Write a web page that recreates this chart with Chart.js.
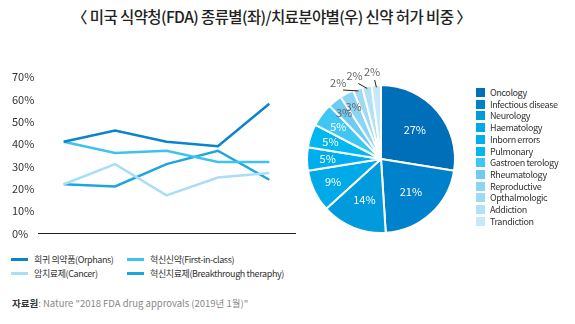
<!DOCTYPE html>
<html><head><meta charset="utf-8">
<script src="https://cdn.jsdelivr.net/npm/chart.js@4/dist/chart.umd.min.js"></script>
<style>
html,body{margin:0;padding:0;background:#fff;width:575px;height:324px;overflow:hidden;font-family:"Noto Sans CJK KR","Noto Sans",sans-serif;}
#title{position:absolute;left:72px;top:5px;white-space:nowrap;font-size:15.5px;font-weight:500;color:#222;letter-spacing:-0.6px;}
#lc{position:absolute;left:0;top:60px;}
#pc{position:absolute;left:286px;top:54px;}
.lg{position:absolute;font-size:9px;color:#333;white-space:nowrap;letter-spacing:-0.4px;}
.sw{display:inline-block;width:17px;height:3px;vertical-align:middle;margin-right:6px;position:relative;top:-1px;}
.ps{display:inline-block;width:9px;height:9px;vertical-align:middle;margin-right:5px;position:relative;top:-1px;}
#src{position:absolute;left:12px;top:296px;font-size:9.5px;color:#888;white-space:nowrap;}
#src b{color:#333;font-weight:700;}
</style></head><body>
<div id="title">〈 미국 식약청(FDA) 종류별(좌)/치료분야별(우) 신약 허가 비중 〉</div>
<canvas id="lc" width="300" height="180"></canvas>
<canvas id="pc" width="190" height="210"></canvas>
<div id="lineLegend"></div>
<div id="pieLegend"></div>
<div id="src"><b>자료원</b>: Nature "2018 FDA drug approvals (2019년 1월)"</div>
<script>
// ---- Line chart data ----
const years = ["1", "2", "3", "4", "5"];
const orphans = [41, 46, 41, 39, 58];
const firstInClass = [41, 36, 37, 32, 32];
const cancer = [22, 31, 17, 25, 27];
const breakthrough = [22, 21, 31, 37, 24];
const lineNames = ["희귀 의약품(Orphans)", "혁신신약(First-in-class)", "암치료제(Cancer)", "혁신치료제(Breakthrough theraphy)"];
const yTicks = [0, 10, 20, 30, 40, 50, 60, 70];

// ---- Pie chart data ----
const areas = ["Oncology", "Infectious disease", "Neurology", "Haematology", "Inborn errors", "Pulmonary", "Gastroen terology", "Rheumatology", "Reproductive", "Opthalmologic", "Addiction", "Trandiction"];
const shares = [27, 21, 14, 9, 5, 5, 5, 3, 3, 2, 2, 2];

const lineColors = ["#0a84cc", "#3ec3f0", "#a9def6", "#1ba6e0"];
const pieColors = ["#006fba", "#0081cb", "#009add", "#00a9e8", "#00aeef", "#00b7f0", "#3fc7f4", "#6ecbf2", "#8cd4f5", "#9fdaf5", "#b0e1f7", "#c6e9fa"];

const lineSeries = [orphans, firstInClass, cancer, breakthrough];

new Chart(document.getElementById('lc'), {
  type: 'line',
  data: {
    labels: years,
    datasets: lineSeries.map((d, i) => ({
      label: lineNames[i], data: d, borderColor: lineColors[i], borderWidth: 2.5,
      pointRadius: 0, tension: 0, fill: false
    }))
  },
  options: {
    responsive: false, animation: false,
    layout: { padding: { left: 12, top: 17, right: 5, bottom: 3 } },
    plugins: { legend: { display: false }, tooltip: { enabled: false } },
    scales: {
      x: {
        offset: true,
        grid: { display: false },
        border: { display: true, color: '#222', width: 1 },
        ticks: { display: false },
        afterFit: s => { s.height = 1; }
      },
      y: {
        min: 0, max: 70,
        afterBuildTicks: s => { s.ticks = yTicks.map(v => ({ value: v })); },
        grid: { display: false },
        border: { display: false },
        ticks: { crossAlign: 'far', padding: 0, color: '#333', font: { family: 'Noto Sans CJK KR', size: 11 }, callback: v => v + '%' },
        afterFit: s => { s.width = 26; }
      }
    }
  }
});

// Pie labels plugin
const pieLabels = {
  id: 'pieLabels',
  afterDatasetsDraw(chart) {
    const ctx = chart.ctx;
    const meta = chart.getDatasetMeta(0);
    ctx.save();
    ctx.textAlign = 'center';
    ctx.textBaseline = 'middle';
    meta.data.forEach((arc, i) => {
      const p = arc.getProps(['x', 'y', 'startAngle', 'endAngle', 'outerRadius']);
      const v = shares[i];
      const mid = (p.startAngle + p.endAngle) / 2;
      const R = p.outerRadius;
      ctx.font = '11px "Noto Sans CJK KR"';
      if (v >= 5) {
        const f = v >= 14 ? 0.6 : 0.72;
        ctx.fillStyle = '#fff';
        ctx.fillText(v + '%', p.x + Math.cos(mid) * R * f, p.y + Math.sin(mid) * R * f);
      } else if (v >= 3) {
        ctx.fillStyle = '#666';
        ctx.fillText(v + '%', p.x + Math.cos(mid) * R * 0.8, p.y + Math.sin(mid) * R * 0.8);
      } else {
        const top = -Math.PI / 2;
        const la = top + (mid - top - 2 * Math.PI) * 1.6;
        const lx = p.x + Math.cos(la) * R * 1.18, ly = p.y + Math.sin(la) * R * 1.18;
        const sx = p.x + Math.cos(mid) * R * 0.97, sy = p.y + Math.sin(mid) * R * 0.97;
        const ex = p.x + Math.cos(la) * R * 1.1, ey = p.y + Math.sin(la) * R * 1.1;
        ctx.strokeStyle = '#222'; ctx.lineWidth = 1;
        ctx.beginPath(); ctx.moveTo(sx, sy); ctx.lineTo(ex + 2, ey + 2); ctx.stroke();
        ctx.fillStyle = '#666';
        ctx.fillText(v + '%', lx, ly);
      }
    });
    ctx.restore();
  }
};

new Chart(document.getElementById('pc'), {
  type: 'pie',
  data: { labels: areas, datasets: [{ data: shares, backgroundColor: pieColors, borderColor: '#fff', borderWidth: 2 }] },
  options: {
    responsive: false, animation: false,
    layout: { padding: { left: 20, right: 20, top: 20, bottom: 20 } },
    plugins: { legend: { display: false }, tooltip: { enabled: false } }
  },
  plugins: [pieLabels]
});

// HTML legends
const ll = document.getElementById('lineLegend');
const pos = [[11, 253], [127, 253], [11, 267], [127, 267]];
[0, 1, 2, 3].forEach((i) => {
  const d = document.createElement('div');
  d.className = 'lg';
  d.style.left = pos[i][0] + 'px'; d.style.top = pos[i][1] + 'px';
  d.innerHTML = '<span class="sw" style="background:' + lineColors[i] + '"></span>' + lineNames[i];
  ll.appendChild(d);
});
const pl = document.getElementById('pieLegend');
areas.forEach((a, i) => {
  const d = document.createElement('div');
  d.className = 'lg';
  d.style.left = '476px'; d.style.top = (86 + i * 11.7) + 'px';
  d.innerHTML = '<span class="ps" style="background:' + pieColors[i] + '"></span>' + a;
  pl.appendChild(d);
});
</script>
</body></html>
